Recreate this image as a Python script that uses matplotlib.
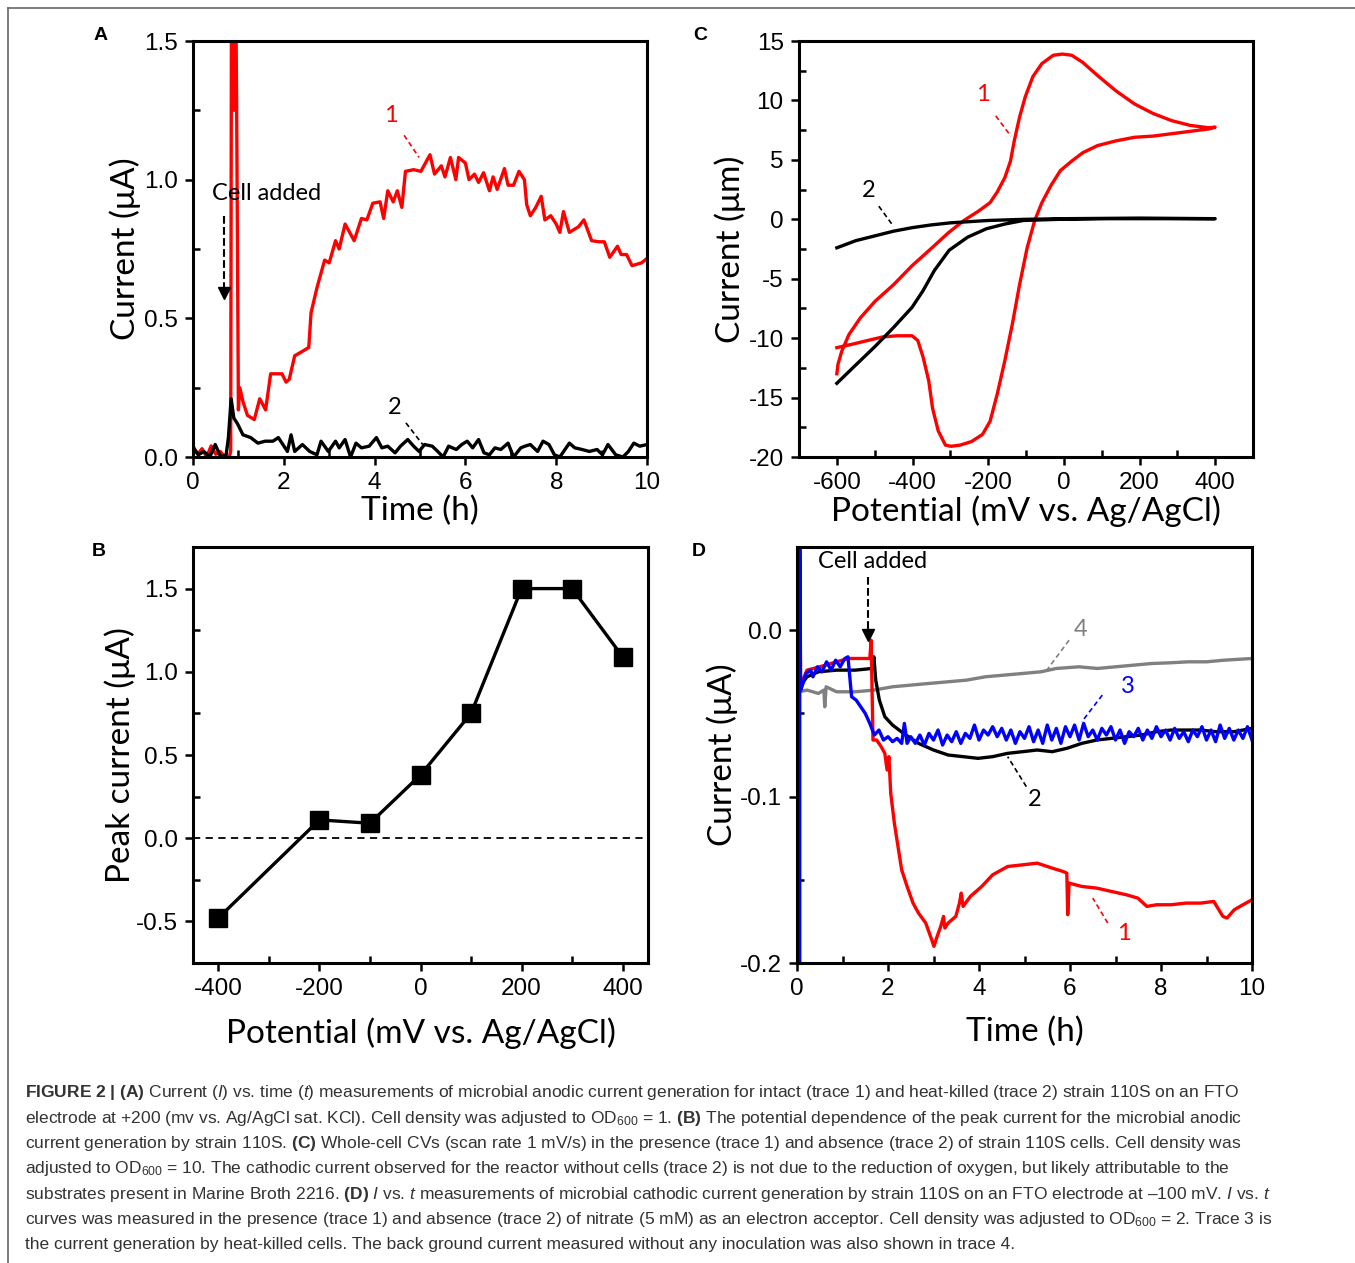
import matplotlib
matplotlib.use('Agg')
import matplotlib.pyplot as plt
from matplotlib.lines import Line2D
from matplotlib.ticker import MultipleLocator

plt.rcParams['font.family'] = ['Liberation Sans', 'DejaVu Sans']
plt.rcParams['mathtext.fontset'] = 'custom'
plt.rcParams['mathtext.rm'] = 'Liberation Sans'
plt.rcParams['mathtext.it'] = 'Liberation Sans:italic'
plt.rcParams['mathtext.bf'] = 'Liberation Sans:bold'
plt.rcParams['mathtext.default'] = 'regular'
plt.rcParams['axes.unicode_minus'] = False

RED = '#ff0000'
BLUE = '#0000ff'
GRAY = '#808080'
LABEL_FONT = ['Lato', 'DejaVu Sans']

# ---------------- data ----------------
# panel A: current vs time, trace 1 (intact) and trace 2 (heat killed)
a_red = [(0, 0.04), (0.1, 0.01), (0.2, 0.03), (0.3, 0.0), (0.4, 0.04), (0.5, 0.01), (0.6, 0.02),
         (0.7, 0.0), (0.8, 0.0), (0.83, 0.02), (0.85, 1.9), (0.9, 1.25), (0.93, 1.9), (0.96, 1.3),
         (1.0, 0.17), (1.03, 0.25), (1.1, 0.2), (1.2, 0.15), (1.35, 0.135), (1.47, 0.21), (1.6, 0.17),
         (1.71, 0.30), (1.96, 0.30), (2.05, 0.27), (2.12, 0.28), (2.24, 0.365), (2.4, 0.38),
         (2.55, 0.395), (2.6, 0.52), (2.73, 0.61), (2.9, 0.71), (3.0, 0.70), (3.14, 0.78),
         (3.22, 0.75), (3.35, 0.84), (3.55, 0.78), (3.71, 0.86), (3.83, 0.855), (3.96, 0.915),
         (4.12, 0.92), (4.2, 0.86), (4.29, 0.96), (4.41, 0.92), (4.5, 0.96), (4.6, 0.9), (4.68, 1.03),
         (4.86, 1.036), (5.02, 1.03), (5.22, 1.09), (5.32, 1.02), (5.47, 1.05), (5.55, 1.01),
         (5.67, 1.08), (5.79, 1.0), (5.85, 1.08), (6.0, 1.06), (6.08, 1.0), (6.2, 1.02), (6.29, 0.99),
         (6.4, 1.025), (6.53, 0.96), (6.61, 1.01), (6.7, 0.965), (6.86, 1.04), (6.94, 0.98),
         (7.06, 0.98), (7.18, 1.03), (7.3, 1.0), (7.35, 0.91), (7.43, 0.87), (7.55, 0.9), (7.67, 0.94),
         (7.75, 0.855), (7.88, 0.87), (8.0, 0.84), (8.08, 0.81), (8.16, 0.885), (8.29, 0.81),
         (8.49, 0.83), (8.61, 0.855), (8.78, 0.78), (8.94, 0.776), (9.06, 0.776), (9.18, 0.72),
         (9.35, 0.76), (9.43, 0.73), (9.55, 0.73), (9.67, 0.69), (9.88, 0.70), (10.0, 0.716)]

a_black = [(0.0, 0.033), (0.12, 0.008), (0.24, 0.02), (0.37, 0.0), (0.49, 0.045), (0.61, 0.0),
           (0.73, 0.008), (0.78, 0.07), (0.84, 0.21), (0.9, 0.14), (0.98, 0.12), (1.1, 0.08),
           (1.27, 0.07), (1.43, 0.05), (1.59, 0.057), (1.76, 0.057), (1.88, 0.07), (2.0, 0.04),
           (2.08, 0.02), (2.16, 0.08), (2.24, 0.02), (2.41, 0.045), (2.57, 0.02), (2.73, 0.008),
           (2.82, 0.057), (2.98, 0.02), (3.14, 0.057), (3.22, 0.033), (3.35, 0.063), (3.47, 0.0),
           (3.59, 0.05), (3.71, 0.033), (3.88, 0.039), (4.04, 0.07), (4.16, 0.033), (4.29, 0.039),
           (4.45, 0.015), (4.57, 0.039), (4.73, 0.063), (4.86, 0.039), (4.98, 0.02), (5.1, 0.045),
           (5.27, 0.039), (5.39, 0.02), (5.51, 0.0), (5.63, 0.039), (5.8, 0.027), (5.92, 0.045),
           (6.04, 0.057), (6.16, 0.033), (6.29, 0.063), (6.41, 0.015), (6.53, 0.008), (6.65, 0.033),
           (6.78, 0.027), (6.94, 0.05), (7.06, 0.0), (7.22, 0.033), (7.31, 0.039), (7.43, 0.045),
           (7.59, 0.02), (7.71, 0.057), (7.84, 0.045), (7.96, 0.008), (8.08, 0.0), (8.29, 0.05),
           (8.41, 0.033), (8.57, 0.027), (8.73, 0.02), (8.9, 0.027), (9.02, 0.008), (9.14, 0.045),
           (9.31, 0.008), (9.47, 0.0), (9.59, 0.02), (9.71, 0.05), (9.84, 0.039), (10.0, 0.045)]

# panel B: peak current vs potential
b_potential = [-400, -200, -100, 0, 100, 200, 300, 400]
b_peak = [-0.48, 0.11, 0.09, 0.38, 0.75, 1.50, 1.50, 1.09]

# panel C: cyclic voltammograms
c_red = [(-600, -13.0), (-597, -12.2), (-587, -11.1), (-568, -9.7), (-538, -8.3), (-499, -6.9),
         (-450, -5.5), (-401, -3.9), (-352, -2.5), (-304, -1.1), (-264, -0.1), (-225, 0.7),
         (-195, 1.4), (-176, 2.3), (-156, 3.5), (-141, 4.9), (-131, 6.6), (-117, 8.6), (-102, 10.3),
         (-82, 12.0), (-58, 13.1), (-28, 13.8), (-4, 13.9), (21, 13.8), (50, 13.2), (89, 12.1),
         (138, 10.8), (187, 9.7), (236, 8.9), (285, 8.3), (334, 7.9), (383, 7.7), (400, 7.75),
         (383, 7.6), (334, 7.4), (285, 7.2), (236, 7.0), (187, 6.9), (138, 6.6), (89, 6.2),
         (50, 5.6), (21, 4.9), (-9, 4.1), (-33, 2.9), (-58, 1.4), (-77, -0.1), (-97, -2.4),
         (-117, -5.5), (-136, -8.8), (-156, -11.9), (-176, -14.7), (-195, -17.0), (-215, -18.1),
         (-244, -18.7), (-274, -19.0), (-298, -19.1), (-313, -19.0), (-332, -17.8), (-347, -15.9),
         (-357, -13.6), (-372, -11.6), (-386, -10.2), (-401, -9.8), (-440, -9.8), (-479, -9.9),
         (-519, -10.2), (-558, -10.5), (-600, -10.8)]

c_black = [(-600, -13.8), (-548, -12.2), (-499, -10.7), (-450, -9.1), (-401, -7.4), (-372, -6.0),
           (-342, -4.3), (-303, -2.6), (-254, -1.5), (-205, -0.8), (-156, -0.4), (-107, -0.1),
           (-9, 0.0), (100, 0.05), (200, 0.05), (400, 0.05), (200, 0.1), (0, 0.05), (-100, 0.0),
           (-200, -0.1), (-300, -0.3), (-352, -0.48), (-400, -0.7), (-450, -1.0), (-500, -1.4),
           (-550, -1.8), (-600, -2.4)]

# panel D: cathodic current vs time
d_red = [(0.06, -0.034), (0.22, -0.024), (0.5, -0.022), (0.87, -0.019),
         (1.12, -0.017), (1.4, -0.017), (1.6, -0.017), (1.63, -0.006), (1.67, -0.066), (1.75, -0.066),
         (1.85, -0.07), (1.93, -0.074), (1.98, -0.084), (2.02, -0.076), (2.06, -0.098), (2.14, -0.116),
         (2.22, -0.13), (2.3, -0.144), (2.42, -0.154), (2.55, -0.164), (2.67, -0.17), (2.83, -0.176),
         (2.96, -0.186), (3.01, -0.19), (3.08, -0.184), (3.16, -0.178), (3.22, -0.172), (3.25, -0.179),
         (3.32, -0.176), (3.49, -0.172), (3.57, -0.164), (3.61, -0.158), (3.65, -0.166), (3.81, -0.16),
         (4.06, -0.154), (4.3, -0.147), (4.63, -0.142), (4.96, -0.141), (5.28, -0.14), (5.61, -0.143),
         (5.85, -0.145), (5.93, -0.146), (5.95, -0.171), (5.98, -0.152), (6.26, -0.154), (6.59, -0.155),
         (6.91, -0.157), (7.24, -0.159), (7.49, -0.161), (7.69, -0.166), (7.9, -0.165), (8.22, -0.165),
         (8.55, -0.164), (8.87, -0.164), (9.16, -0.163), (9.36, -0.172), (9.45, -0.173), (9.61, -0.168),
         (9.8, -0.165), (10.0, -0.162)]

d_black = [(0.06, -0.034), (0.22, -0.028), (0.47, -0.025), (0.87, -0.024), (1.28, -0.024),
           (1.65, -0.023), (1.69, -0.016), (1.73, -0.03), (1.81, -0.042), (1.93, -0.052),
           (2.1, -0.057), (2.34, -0.062), (2.67, -0.068), (3.0, -0.072), (3.32, -0.075),
           (3.65, -0.076), (3.98, -0.077), (4.3, -0.076), (4.63, -0.074), (4.96, -0.073),
           (5.28, -0.072), (5.61, -0.073), (5.93, -0.071), (6.26, -0.068), (6.59, -0.066),
           (6.91, -0.065), (7.24, -0.064), (7.57, -0.063), (7.9, -0.061), (8.22, -0.06),
           (8.55, -0.06), (8.87, -0.06), (9.2, -0.061), (9.6, -0.061), (10.0, -0.059)]

d_blue = [(0.06, -0.21), (0.06, 0.06), (0.08, -0.036), (0.12, -0.033), (0.2, -0.026), (0.3, -0.024),
          (0.35, -0.028), (0.45, -0.022), (0.55, -0.025), (0.65, -0.019), (0.75, -0.024),
          (0.85, -0.018), (0.95, -0.022), (1.05, -0.017), (1.12, -0.016), (1.2, -0.04), (1.3, -0.042),
          (1.4, -0.046), (1.5, -0.05), (1.6, -0.056), (1.7, -0.063), (1.8, -0.06), (1.9, -0.066),
          (2.0, -0.064), (2.1, -0.067), (2.2, -0.065), (2.3, -0.068), (2.36, -0.056), (2.42, -0.068),
          (2.5, -0.064), (2.6, -0.068), (2.7, -0.063), (2.8, -0.069), (2.9, -0.062), (3.0, -0.066),
          (3.1, -0.06), (3.2, -0.069), (3.3, -0.063), (3.4, -0.067), (3.5, -0.061), (3.6, -0.068),
          (3.7, -0.062), (3.8, -0.065), (3.9, -0.057), (4.0, -0.066), (4.1, -0.06), (4.2, -0.063),
          (4.3, -0.058), (4.4, -0.064), (4.5, -0.059), (4.6, -0.066), (4.7, -0.06), (4.8, -0.068),
          (4.9, -0.061), (5.0, -0.065), (5.1, -0.058), (5.2, -0.067), (5.3, -0.06), (5.4, -0.068),
          (5.5, -0.057), (5.6, -0.066), (5.7, -0.059), (5.8, -0.068), (5.9, -0.058), (6.0, -0.064),
          (6.1, -0.057), (6.2, -0.066), (6.3, -0.056), (6.4, -0.064), (6.5, -0.06), (6.6, -0.066),
          (6.7, -0.059), (6.8, -0.063), (6.9, -0.058), (7.0, -0.066), (7.1, -0.06), (7.2, -0.068),
          (7.3, -0.061), (7.4, -0.064), (7.5, -0.059), (7.6, -0.066), (7.7, -0.06), (7.8, -0.065),
          (7.9, -0.058), (8.0, -0.064), (8.1, -0.06), (8.2, -0.066), (8.3, -0.059), (8.4, -0.065),
          (8.5, -0.061), (8.6, -0.067), (8.7, -0.06), (8.8, -0.064), (8.9, -0.058), (9.0, -0.066),
          (9.1, -0.06), (9.2, -0.067), (9.3, -0.057), (9.4, -0.065), (9.5, -0.059), (9.6, -0.066),
          (9.7, -0.06), (9.8, -0.065), (9.9, -0.058), (10.0, -0.066)]

d_gray = [(0.06, -0.037), (0.22, -0.036), (0.47, -0.038), (0.59, -0.036), (0.61, -0.046),
          (0.64, -0.034), (0.87, -0.037), (1.28, -0.037), (1.69, -0.036), (2.1, -0.034),
          (2.5, -0.033), (2.9, -0.032), (3.32, -0.031), (3.73, -0.030), (4.14, -0.028),
          (4.55, -0.027), (4.96, -0.026), (5.36, -0.025), (5.7, -0.023), (6.2, -0.022),
          (6.6, -0.023), (7.0, -0.022), (7.4, -0.021), (7.8, -0.020), (8.2, -0.0196),
          (8.6, -0.019), (9.0, -0.019), (9.4, -0.018), (10.0, -0.017)]

caption_lines = [
    r"$\bf{FIGURE\ 2\ |\ (A)}$ Current ($\it{I}$) vs. time ($\it{t}$) measurements of microbial anodic current generation for intact (trace 1) and heat-killed (trace 2) strain 110S on an FTO",
    r"electrode at +200 (mv vs. Ag/AgCl sat. KCl). Cell density was adjusted to OD$_{600}$ = 1. $\bf{(B)}$ The potential dependence of the peak current for the microbial anodic",
    r"current generation by strain 110S. $\bf{(C)}$ Whole-cell CVs (scan rate 1 mV/s) in the presence (trace 1) and absence (trace 2) of strain 110S cells. Cell density was",
    r"adjusted to OD$_{600}$ = 10. The cathodic current observed for the reactor without cells (trace 2) is not due to the reduction of oxygen, but likely attributable to the",
    r"substrates present in Marine Broth 2216. $\bf{(D)}$ $\it{I}$ vs. $\it{t}$ measurements of microbial cathodic current generation by strain 110S on an FTO electrode at –100 mV. $\it{I}$ vs. $\it{t}$",
    r"curves was measured in the presence (trace 1) and absence (trace 2) of nitrate (5 mM) as an electron acceptor. Cell density was adjusted to OD$_{600}$ = 2. Trace 3 is",
    r"the current generation by heat-killed cells. The back ground current measured without any inoculation was also shown in trace 4.",
]

# ---------------- figure ----------------
W, H = 1355, 1263
fig = plt.figure(figsize=(W / 100, H / 100), dpi=100)

AXLABEL = 24
TICK = 17.5
NOTE = 17


def box(l, r, t, b):
    return [l / W, 1 - b / H, (r - l) / W, (b - t) / H]


def style(ax):
    for s in ax.spines.values():
        s.set_linewidth(2.2)
    ax.tick_params(which='major', direction='out', length=6, width=1.8, labelsize=TICK,
                   top=False, right=False, pad=5)
    ax.tick_params(which='minor', direction='in', length=5, width=1.8, top=False, right=False)


def unzip(pairs):
    return [p[0] for p in pairs], [p[1] for p in pairs]


def leader(ax, x0, y0, x1, y1, color):
    ax.plot([x0, x1], [y0, y1], ls='--', color=color, lw=1.2, dashes=(3, 2))


def note(ax, x, y, s, color='k'):
    ax.text(x, y, s, color=color, fontsize=NOTE, family=LABEL_FONT, ha='center', va='center')


# panel A
axA = fig.add_axes(box(193, 647, 41, 457))
t, v = unzip(a_red)
axA.plot(t, v, color=RED, lw=2.4)
t, v = unzip(a_black)
axA.plot(t, v, color='k', lw=2.4)
axA.set_xlim(0, 10)
axA.set_ylim(0, 1.5)
axA.xaxis.set_major_locator(MultipleLocator(2))
axA.xaxis.set_minor_locator(MultipleLocator(1))
axA.yaxis.set_major_locator(MultipleLocator(0.5))
axA.yaxis.set_minor_locator(MultipleLocator(0.25))
style(axA)
axA.set_xlabel('Time (h)', fontsize=AXLABEL, family=LABEL_FONT, labelpad=1)
axA.set_ylabel('Current (μA)', fontsize=AXLABEL, family=LABEL_FONT, labelpad=2)
note(axA, 1.63, 0.95, 'Cell added')
axA.plot([0.68, 0.68], [0.87, 0.6], ls='--', color='k', lw=1.5)
axA.plot([0.68], [0.59], marker='v', color='k', ms=9, clip_on=False)
note(axA, 4.36, 1.23, '1', RED)
leader(axA, 4.65, 1.16, 4.98, 1.08, RED)
note(axA, 4.45, 0.18, '2')
leader(axA, 4.69, 0.123, 5.06, 0.045, 'k')

# panel C
axC = fig.add_axes(box(799, 1253, 41, 457))
x, y = unzip(c_red)
axC.plot(x, y, color=RED, lw=2.4)
x, y = unzip(c_black)
axC.plot(x, y, color='k', lw=2.4)
axC.set_xlim(-700, 500)
axC.set_ylim(-20, 15)
axC.xaxis.set_major_locator(MultipleLocator(200))
axC.xaxis.set_minor_locator(MultipleLocator(100))
axC.yaxis.set_major_locator(MultipleLocator(5))
axC.yaxis.set_minor_locator(MultipleLocator(2.5))
style(axC)
axC.set_xlabel('Potential (mV vs. Ag/AgCl)', fontsize=AXLABEL, family=LABEL_FONT, labelpad=1)
axC.set_ylabel('Current (μm)', fontsize=AXLABEL, family=LABEL_FONT, labelpad=2)
note(axC, -213, 10.5, '1', RED)
leader(axC, -180, 8.7, -140, 7.0, RED)
note(axC, -515, 2.4, '2')
leader(axC, -489, 1.1, -450, -0.6, 'k')

# panel B
axB = fig.add_axes(box(193, 648, 547, 963))
axB.axhline(0, color='k', ls='--', lw=1.3, dashes=(4, 3))
axB.plot(b_potential, b_peak, color='k', lw=2.4, marker='s', ms=13)
axB.set_xlim(-450, 450)
axB.set_ylim(-0.75, 1.75)
axB.xaxis.set_major_locator(MultipleLocator(200))
axB.xaxis.set_minor_locator(MultipleLocator(100))
axB.yaxis.set_major_locator(MultipleLocator(0.5))
axB.yaxis.set_minor_locator(MultipleLocator(0.25))
style(axB)
axB.set_xlabel('Potential (mV vs. Ag/AgCl)', fontsize=AXLABEL, family=LABEL_FONT, labelpad=12)
axB.set_ylabel('Peak current (μA)', fontsize=AXLABEL, family=LABEL_FONT, labelpad=0)

# panel D
axD = fig.add_axes(box(797, 1252, 547, 963))
t, v = unzip(d_gray)
axD.plot(t, v, color=GRAY, lw=2.4)
t, v = unzip(d_black)
axD.plot(t, v, color='k', lw=2.4)
t, v = unzip(d_red)
axD.plot(t, v, color=RED, lw=2.4)
t, v = unzip(d_blue)
axD.plot(t, v, color=BLUE, lw=2.4)
axD.set_xlim(0, 10)
axD.set_ylim(-0.2, 0.05)
axD.xaxis.set_major_locator(MultipleLocator(2))
axD.xaxis.set_minor_locator(MultipleLocator(1))
axD.yaxis.set_major_locator(MultipleLocator(0.1))
axD.yaxis.set_minor_locator(MultipleLocator(0.05))
style(axD)
axD.set_xlabel('Time (h)', fontsize=AXLABEL, family=LABEL_FONT, labelpad=12)
axD.set_ylabel('Current (μA)', fontsize=AXLABEL, family=LABEL_FONT, labelpad=1)
note(axD, 1.67, 0.0414, 'Cell added')
axD.plot([1.56, 1.56], [0.032, -0.002], ls='--', color='k', lw=1.5)
axD.plot([1.56], [-0.003], marker='v', color='k', ms=9)
note(axD, 6.24, 0.0006, '4', GRAY)
leader(axD, 5.98, -0.006, 5.49, -0.024, GRAY)
note(axD, 7.27, -0.0336, '3', BLUE)
leader(axD, 6.71, -0.039, 6.26, -0.055, BLUE)
note(axD, 5.23, -0.102, '2')
leader(axD, 5.04, -0.094, 4.63, -0.076, 'k')
note(axD, 7.19, -0.182, '1', RED)
leader(axD, 6.83, -0.176, 6.5, -0.161, RED)

# panel letters
for letter, px, py in [('A', 101, 35), ('C', 700, 35), ('B', 99, 552), ('D', 699, 552)]:
    fig.text(px / W, 1 - py / H, letter, fontsize=14, fontweight='bold', ha='center', va='center')

# caption
for i, line in enumerate(caption_lines):
    fig.text(25 / W, 1 - (1093 + i * 25.3) / H, line, fontsize=12.5, color='#333333',
             ha='left', va='center')

# outer frame (top and left edges)
fig.add_artist(Line2D([8 / W, 1], [1 - 8 / H, 1 - 8 / H], transform=fig.transFigure, color='#666666', lw=1.2))
fig.add_artist(Line2D([8 / W, 8 / W], [0, 1 - 8 / H], transform=fig.transFigure, color='#666666', lw=1.2))

fig.savefig('out.png', dpi=100)
